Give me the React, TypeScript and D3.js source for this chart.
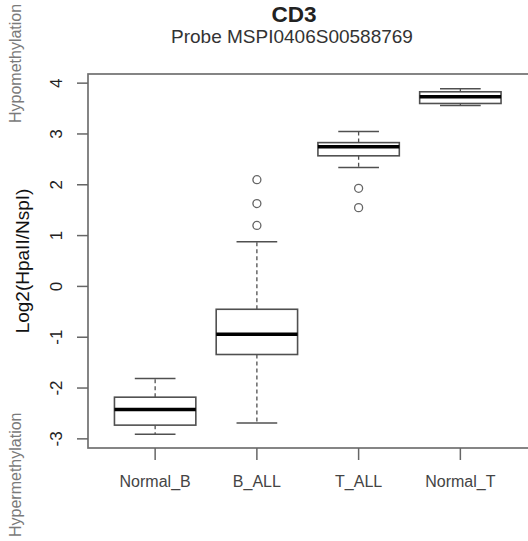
import React from "react";
import * as d3 from "d3";

const categories = ["Normal_B", "B_ALL", "T_ALL", "Normal_T"];
const whiskerLow = [-2.91, -2.69, 2.34, 3.56];
const q1 = [-2.73, -1.34, 2.57, 3.6];
const median = [-2.42, -0.94, 2.75, 3.73];
const q3 = [-2.18, -0.45, 2.83, 3.83];
const whiskerHigh = [-1.81, 0.88, 3.05, 3.89];
const outliers: number[][] = [[], [2.1, 1.63, 1.2], [1.93, 1.55], []];
const yTicks = [-3, -2, -1, 0, 1, 2, 3, 4];

const W = 528;
const H = 541;
const left = 88;
const top = 74;
const bottom = 448;

export default function App() {
  const x = d3.scaleLinear().domain([0.34, 4.66]).range([left, 527.5]);
  const y = d3.scaleLinear().domain([-3.18, 4.18]).range([bottom, top]);
  const unit = x(2) - x(1);
  const boxHalf = 0.4 * unit;
  const capHalf = 0.2 * unit;
  const boxColor = "#505050";
  const font = "Liberation Sans, Arial, sans-serif";

  return (
    <svg
      width={W}
      height={H}
      style={{ position: "absolute", left: 0, top: 0, background: "#fff" }}
      fontFamily={font}
    >
      <rect x={0} y={0} width={W} height={H} fill="#fff" />
      {/* Titles */}
      <text x={294} y={22} textAnchor="middle" fontSize={22.5} fontWeight="bold" fill="#222">
        CD3
      </text>
      <text x={292} y={43} textAnchor="middle" fontSize={19} fill="#333">
        Probe MSPI0406S00588769
      </text>

      {/* Side annotations */}
      <text
        transform={`translate(21,123) rotate(-90)`}
        textAnchor="start"
        fontSize={16}
        fill="#7a7a7a"
      >
        Hypomethylation
      </text>
      <text
        transform={`translate(21,537) rotate(-90)`}
        textAnchor="start"
        fontSize={16}
        fill="#7a7a7a"
      >
        Hypermethylation
      </text>

      {/* Y axis title */}
      <text
        transform={`translate(29,${(top + bottom) / 2}) rotate(-90)`}
        textAnchor="middle"
        fontSize={19}
        fill="#111"
      >
        Log2(HpaII/NspI)
      </text>

      {/* Frame */}
      <rect
        x={left}
        y={top}
        width={W + 10 - left}
        height={bottom - top}
        fill="none"
        stroke="#707070"
        strokeWidth={1.7}
      />

      {/* Y ticks */}
      {yTicks.map((t) => (
        <g key={t}>
          <line x1={77} x2={left} y1={y(t)} y2={y(t)} stroke="#666" strokeWidth={1.5} />
          <text
            transform={`translate(62,${y(t)}) rotate(-90)`}
            textAnchor="middle"
            fontSize={17}
            fill="#222"
          >
            {t}
          </text>
        </g>
      ))}

      {/* X ticks */}
      {categories.map((c, i) => (
        <g key={c}>
          <line x1={x(i + 1)} x2={x(i + 1)} y1={bottom} y2={460} stroke="#666" strokeWidth={1.5} />
          <text x={x(i + 1)} y={487} textAnchor="middle" fontSize={16} fill="#444">
            {c}
          </text>
        </g>
      ))}

      {/* Boxes */}
      {categories.map((c, i) => {
        const cx = x(i + 1);
        return (
          <g key={"b" + c}>
            <line x1={cx} x2={cx} y1={y(q3[i])} y2={y(whiskerHigh[i])} stroke={boxColor} strokeWidth={1.3} strokeDasharray="4,3" />
            <line x1={cx} x2={cx} y1={y(q1[i])} y2={y(whiskerLow[i])} stroke={boxColor} strokeWidth={1.3} strokeDasharray="4,3" />
            <line x1={cx - capHalf} x2={cx + capHalf} y1={y(whiskerHigh[i])} y2={y(whiskerHigh[i])} stroke={boxColor} strokeWidth={1.5} />
            <line x1={cx - capHalf} x2={cx + capHalf} y1={y(whiskerLow[i])} y2={y(whiskerLow[i])} stroke={boxColor} strokeWidth={1.5} />
            <rect
              x={cx - boxHalf}
              y={y(q3[i])}
              width={2 * boxHalf}
              height={y(q1[i]) - y(q3[i])}
              fill="#fff"
              stroke={boxColor}
              strokeWidth={1.6}
            />
            <line x1={cx - boxHalf} x2={cx + boxHalf} y1={y(median[i])} y2={y(median[i])} stroke="#000" strokeWidth={3.5} />
            {outliers[i].map((o, j) => (
              <circle key={j} cx={cx} cy={y(o)} r={4} fill="none" stroke="#666" strokeWidth={1.3} />
            ))}
          </g>
        );
      })}
    </svg>
  );
}
